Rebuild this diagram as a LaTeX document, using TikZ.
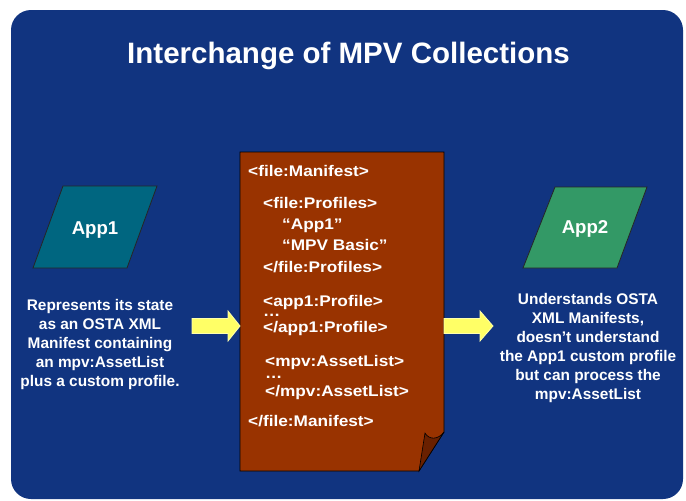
\documentclass[tikz,border=0pt]{standalone}
\usepackage{fontspec}
\setmainfont{Liberation Sans}
\newfontfamily\xmlfont{Liberation Sans}[FakeStretch=1.12]
\definecolor{fondBleu}{RGB}{17,52,128}
\definecolor{brique}{RGB}{153,51,0}
\definecolor{briqueSombre}{RGB}{105,32,0}
\definecolor{sarcelle}{RGB}{0,102,128}
\definecolor{vertApp}{RGB}{51,153,102}
\definecolor{jaune}{RGB}{255,255,102}
\begin{document}
\begin{tikzpicture}[x=1pt,y=-1pt]
		\tikzstyle{cadre}=[fill=fondBleu,rounded corners=20pt]
		\tikzstyle{losange}=[draw=black!85,line width=0.8pt]
		\tikzstyle{appli}=[text=white,text depth=0pt,inner sep=0pt,font=\fontsize{18.6}{20}\selectfont\bfseries]
		\tikzstyle{titre}=[text=white,anchor=base,inner sep=0pt,font=\fontsize{29.5}{32}\selectfont\bfseries]
		\tikzstyle{texte}=[text=white,align=center,anchor=north,inner sep=0pt,font=\fontsize{15.4}{19}\selectfont\bfseries]
		\tikzstyle{balise}=[text=white,anchor=base west,inner sep=0pt,align=left,font=\xmlfont\fontsize{15.4}{17}\selectfont\bfseries]
		\tikzstyle{feuille}=[fill=brique,draw=black,line width=0.8pt]
		\tikzstyle{pli}=[fill=briqueSombre,draw=black,line width=0.6pt]
		\tikzstyle{flecheJaune}=[fill=jaune,draw=jaune!55!white,line width=0.8pt]
		\def\MargeA{248}
		\def\MargeB{263}
		\def\MargeD{265}
		\useasboundingbox (0,0) rectangle (686,501);
		\fill[white] (0,0) rectangle (686,501);
		\fill[cadre] (11,10) rectangle (683,499);
		\node[titre] (titre) at (348.5,63.5) {Interchange of MPV Collections};
		% les deux applications
		\draw[losange,fill=sarcelle] (63,186)--(157,186)--(127,268)--(33,268)--cycle;
		\draw[losange,fill=vertApp] (555,187)--(647,187)--(617,268)--(523,268)--cycle;
		\node[appli] (app1) at (95,228) {App1};
		\node[appli] (app2) at (585,227.5) {App2};
		\node[texte] (etat) at (100,299) {Represents its state\\as an OSTA XML\\Manifest containing\\an mpv:AssetList\\plus a custom profile.};
		\node[texte] (lecture) at (588,293) {Understands OSTA\\XML Manifests,\\doesn’t understand\\the App1 custom profile\\but can process the\\mpv:AssetList};
		% le manifeste
		\coordinate (hg) at (240,152);
		\coordinate (hd) at (444,152);
		\coordinate (coin) at (444,432);
		\coordinate (pointe) at (419,471);
		\coordinate (bg) at (240,471);
		\draw[feuille] (hg)--(hd)--(coin)--(pointe)--(bg)--cycle;
		\draw[pli] (coin) .. controls (438,440) and (429,440) .. (425,433)--(pointe)--cycle;
		% base = ligne du bas de chaque bloc
		\node[balise] (m1) at (\MargeA,176.7) {<file:Manifest>};
		\node[balise] (m2) at (\MargeB,272.7) {<file:Profiles>\\[4pt]\hspace{19pt}“App1”\\[4.7pt]\hspace{19pt}“MPV Basic”\\[5pt]</file:Profiles>};
		\node[balise] (m3) at (\MargeB,332.7) {<app1:Profile>\\[-7pt]…\\[-0.3pt]</app1:Profile>};
		\node[balise] (m4) at (\MargeD,396.7) {<mpv:AssetList>\\[-5.7pt]…\\[1.7pt]</mpv:AssetList>};
		\node[balise] (m5) at (\MargeA,426) {</file:Manifest>};
		% fleches jaunes
		\draw[flecheJaune] (192,318.5)--(228,318.5)--(228,311)--(240,326)--(228,341)--(228,333.5)--(192,333.5)--cycle;
		\draw[flecheJaune] (444,318.5)--(480,318.5)--(480,311)--(493,326)--(480,341)--(480,333.5)--(444,333.5)--cycle;
\end{tikzpicture}
\end{document}
